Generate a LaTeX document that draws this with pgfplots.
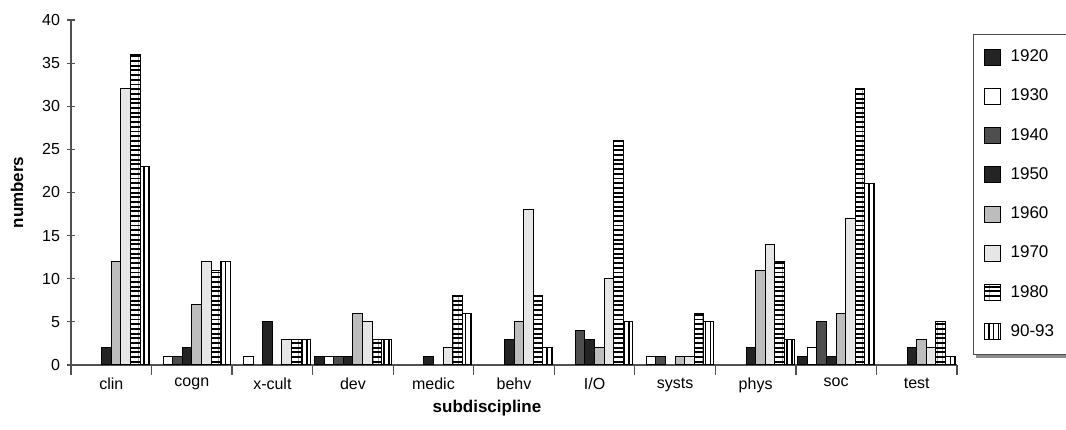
\documentclass[border=0pt]{standalone}
\usepackage{fontspec}
\setmainfont{Liberation Sans}
\usepackage{pgfplots}
\pgfplotsset{compat=1.18}
\usetikzlibrary{patterns.meta}
\pgfdeclarelayer{background}
\pgfsetlayers{background,main}

\definecolor{cdark}{HTML}{242424}
\definecolor{cmid}{HTML}{4E4E4E}
\definecolor{cgray}{HTML}{BDBDBD}
\definecolor{clight}{HTML}{E6E6E6}
\definecolor{caxis}{HTML}{505050}

\begin{document}
\begin{tikzpicture}
\begin{axis}[
  name=ax,
  scale only axis, width=443pt, height=172.5pt,
  xmin=-0.5, xmax=10.5, ymin=0, ymax=40,
  axis lines*=left,
  axis line style={caxis, line width=0.6pt},
  xtick={0,...,10},
  xticklabels={clin,cogn,x-cult,dev,medic,behv,I/O,systs,phys,soc,test},
  minor xtick={-0.5,0.5,...,10.5},
  major x tick style={draw=none},
  ytick={0,5,...,40},
  tick align=center, major tick length=4pt, minor tick length=5pt,
  every tick/.style={caxis, line width=0.6pt},
  ticklabel style={font=\fontsize{8}{9}\selectfont},
  xticklabel style={yshift=1pt},
  /pgf/number format/assume math mode=true,
  xlabel={subdiscipline}, ylabel={numbers},
  every axis x label/.style={at={(axis description cs:0.4695,-0.1246)}, anchor=center,
    font=\fontsize{8.5}{10}\selectfont\bfseries},
  every axis y label/.style={at={(axis description cs:-0.061,0.5)}, rotate=90, anchor=center,
    font=\fontsize{8.5}{10}\selectfont\bfseries},
  ybar=0pt, bar width=4.8pt,
  every axis plot post/.append style={draw=black, line width=0.5pt,
    legend image code/.code={\draw[##1] (0pt,-4pt) rectangle (8pt,4pt);}},
  legend cell align=left,
  legend style={name=leg, at={(1,1)}, anchor=north west, xshift=8pt, yshift=-7pt,
    draw=black!70, line width=0.6pt, fill=white,
    font=\fontsize{8.5}{10}\selectfont, row sep=8.2pt,
    inner xsep=5pt, inner ysep=5.5pt,
    /tikz/every odd column/.append style={column sep=3pt}},
]
% one series per period; empty (zero) entries are left out
\addplot[fill=cdark] coordinates {(3,1) (9,1)};
\addlegendentry{1920}
\addplot[fill=white] coordinates {(1,1) (2,1) (3,1) (7,1) (9,2)};
\addlegendentry{1930}
\addplot[fill=cmid] coordinates {(1,1) (3,1) (6,4) (7,1) (9,5)};
\addlegendentry{1940}
\addplot[fill=cdark] coordinates {(0,2) (1,2) (2,5) (3,1) (4,1) (5,3) (6,3) (8,2) (9,1) (10,2)};
\addlegendentry{1950}
\addplot[fill=cgray] coordinates {(0,12) (1,7) (3,6) (5,5) (6,2) (7,1) (8,11) (9,6) (10,3)};
\addlegendentry{1960}
\addplot[fill=clight] coordinates {(0,32) (1,12) (2,3) (3,5) (4,2) (5,18) (6,10) (7,1) (8,14) (9,17) (10,2)};
\addlegendentry{1970}
\addplot[preaction={fill=black}, pattern={Lines[angle=0, distance=2.35pt, line width=1.4pt]}, pattern color=white, line width=1.1pt]
  coordinates {(0,36) (1,11) (2,3) (3,3) (4,8) (5,8) (6,26) (7,6) (8,12) (9,32) (10,5)};
\addlegendentry{1980}
\addplot[fill=white, postaction={pattern={Lines[angle=90, distance=2.4pt, line width=0.8pt]}, pattern color=black}]
  coordinates {(0,23) (1,12) (2,3) (3,3) (4,6) (5,2) (6,5) (7,5) (8,3) (9,21) (10,1)};
\addlegendentry{90-93}
\end{axis}
% grey shadow behind the legend frame
\begin{pgfonlayer}{background}
  \fill[black!45] ([shift={(1.3pt,-1.3pt)}]leg.south west) rectangle ([shift={(1.3pt,-1.3pt)}]leg.north east);
\end{pgfonlayer}
\pgfresetboundingbox
\path ([shift={(-35.5pt,-32.5pt)}]ax.south west) rectangle ([shift={(54.5pt,10pt)}]ax.north east);
\end{tikzpicture}
\end{document}
